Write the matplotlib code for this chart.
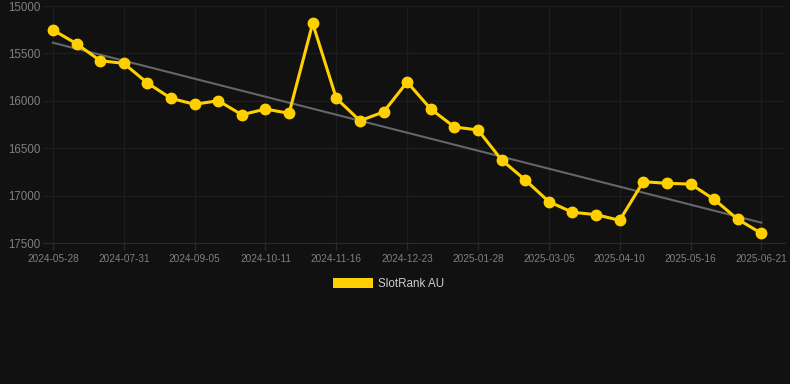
import numpy as np
import matplotlib
matplotlib.use('Agg')
import matplotlib.pyplot as plt
from matplotlib.patches import Patch

plt.rcParams['font.family'] = ['Liberation Sans', 'DejaVu Sans']

# rank values (lower is better, axis inverted)
ranks = [15253, 15398, 15577, 15605, 15812, 15974, 16037, 15999, 16147, 16087,
         16132, 15183, 15974, 16210, 16118, 15802, 16087, 16276, 16308, 16624,
         16835, 17064, 17176, 17201, 17261, 16853, 16871, 16878, 17040, 17250,
         17398]
tick_labels = ['2024-05-28', '2024-07-31', '2024-09-05', '2024-10-11', '2024-11-16',
               '2024-12-23', '2025-01-28', '2025-03-05', '2025-04-10', '2025-05-16',
               '2025-06-21']
label = 'SlotRank AU'

bg = '#111111'
grid = '#1d1d1d'
yellow = '#ffd000'

x = np.arange(len(ranks))
# linear trend line
coef = np.polyfit(x, ranks, 1)
trend = np.polyval(coef, x)

fig = plt.figure(figsize=(7.9, 3.84), dpi=100, facecolor=bg)
ax = fig.add_axes([43/790, 1 - 243/384, (785 - 43)/790, (243 - 6)/384])
ax.set_facecolor(bg)

ax.plot(x, trend, color='#666666', lw=1.5, zorder=2)
ax.plot(x, ranks, color=yellow, lw=2.2, marker='o', ms=7.5, zorder=3)

ax.set_ylim(17500, 15000)
ax.set_yticks([15000, 15500, 16000, 16500, 17000, 17500])
ax.set_xlim(-0.42, 31.0)
ax.set_xticks(x[::3])
ax.set_xticklabels(tick_labels)

ax.grid(True, color=grid, lw=1)
for s in ax.spines.values():
    s.set_visible(False)
ax.spines['bottom'].set_visible(True)
ax.spines['bottom'].set_color('#2a2a2a')
ax.tick_params(axis='y', length=0, pad=2, labelsize=8.3, labelcolor='#808080')
ax.tick_params(axis='x', length=5, width=1, color='#2a2a2a', pad=3, labelsize=7.2,
               labelcolor='#808080')

fig.legend(handles=[Patch(facecolor=yellow, label=label)], loc='center',
           bbox_to_anchor=(0.4924, 1 - 284/384), frameon=False, fontsize=8.4,
           labelcolor='#cccccc', handlelength=3.4, handleheight=1.0, handletextpad=0.45)

fig.savefig('out.png', dpi=100, facecolor=bg)
